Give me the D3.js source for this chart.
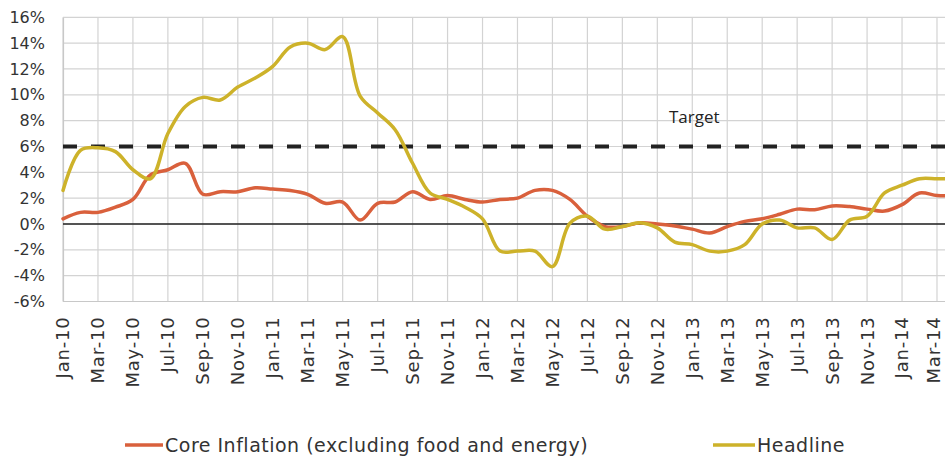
<!DOCTYPE html>
<html>
<head>
<meta charset="utf-8">
<script src="https://cdn.jsdelivr.net/npm/d3@7"></script>
<style>
  html, body { margin: 0; padding: 0; background: #fff; }
  svg { display: block; }
</style>
</head>
<body>
<svg id="chart" width="945" height="457"></svg>
<script>
// Months Jan-10 .. Apr-14 (index 0..51)
const monthNames = ["Jan","Feb","Mar","Apr","May","Jun","Jul","Aug","Sep","Oct","Nov","Dec"];
const months = d3.range(0, 52).map(i => monthNames[i % 12] + "-" + String(10 + Math.floor(i / 12)));

const coreInflation = [
  0.4, 0.9, 0.9, 1.3, 1.9, 3.8, 4.2, 4.7, 2.3, 2.5, 2.5, 2.8, 2.7, 2.6, 2.3,
  1.6, 1.7, 0.3, 1.6, 1.7, 2.5, 1.9, 2.2, 1.9, 1.7, 1.9, 2.0, 2.6, 2.6, 1.9,
  0.6, -0.2, -0.2, 0.1, 0.0, -0.15, -0.4, -0.7, -0.2, 0.2, 0.4, 0.75, 1.15, 1.1,
  1.4, 1.35, 1.15, 1.0, 1.5, 2.4, 2.2, 2.2
];
const headline = [
  2.6, 5.7, 5.9, 5.6, 4.2, 3.5, 7.0, 9.1, 9.8, 9.6, 10.6, 11.3, 12.2, 13.7, 14.0,
  13.5, 14.5, 9.9, 8.6, 7.3, 4.7, 2.4, 1.9, 1.3, 0.4, -2.1, -2.1, -2.1, -3.3, 0.05,
  0.6, -0.4, -0.2, 0.1, -0.3, -1.4, -1.6, -2.1, -2.1, -1.6, 0.0, 0.3, -0.3, -0.3,
  -1.2, 0.3, 0.6, 2.4, 3.0, 3.5, 3.5, 3.5
];
const targetValue = 6;
const yTicks = [-6, -4, -2, 0, 2, 4, 6, 8, 10, 12, 14, 16];
const xTickIdx = d3.range(0, 51, 2);
const seriesNames = ["Core Inflation (excluding food and energy)", "Headline"];
const seriesColors = ["#d9603c", "#cdb22a"];

const svg = d3.select("#chart");
const W = 945;

const x = d3.scaleLinear().domain([0, 51]).range([63, 63 + 17.48 * 51]);
const y = d3.scaleLinear().domain([-6, 16]).range([301.5, 17.3]);

// gridlines
const grid = svg.append("g");
grid.selectAll("line.h").data(yTicks).join("line")
  .attr("x1", x(0)).attr("x2", W)
  .attr("y1", d => y(d)).attr("y2", d => y(d))
  .attr("stroke", "#d3d3d3").attr("stroke-width", 1.2);
grid.selectAll("line.v").data(xTickIdx).join("line")
  .attr("x1", d => x(d)).attr("x2", d => x(d))
  .attr("y1", y(16)).attr("y2", y(-6))
  .attr("stroke", "#d3d3d3").attr("stroke-width", 1.2);

// Y axis
const yAxis = d3.axisLeft(y).tickValues(yTicks).tickFormat(d => d + "%").tickSize(0).tickPadding(18);
const gy = svg.append("g").attr("transform", `translate(${x(0)},0)`).call(yAxis);
gy.select(".domain").attr("stroke", "#c8c8c8").attr("stroke-width", 1.2);
gy.selectAll("text").attr("font-family", "DejaVu Sans").attr("font-size", 16).attr("fill", "#333");

// X axis
const xAxis = d3.axisBottom(x).tickValues(xTickIdx).tickFormat(i => months[i]).tickSize(0);
const gx = svg.append("g").attr("transform", `translate(0,${y(-6)})`).call(xAxis);
gx.select(".domain").attr("stroke", "#c8c8c8").attr("stroke-width", 1.2).attr("d", `M${x(0)},0H${W}`);
gx.selectAll("text")
  .attr("font-family", "DejaVu Sans").attr("font-size", 18).attr("fill", "#333")
  .attr("letter-spacing", 0.8)
  .attr("text-anchor", "end")
  .attr("transform", "rotate(-90)")
  .attr("x", -15).attr("y", d => (d === 50 ? -3.5 : 0)).attr("dy", "0.33em");

// zero line
svg.append("line").attr("x1", x(0)).attr("x2", W)
  .attr("y1", y(0)).attr("y2", y(0)).attr("stroke", "#222").attr("stroke-width", 1.5);

// target line
svg.append("line").attr("x1", x(0)).attr("x2", W)
  .attr("y1", y(targetValue)).attr("y2", y(targetValue))
  .attr("stroke", "#222").attr("stroke-width", 4).attr("stroke-dasharray", "14,14");
svg.append("text").attr("x", 669).attr("y", 123).text("Target")
  .attr("font-family", "Open Sans").attr("font-size", 17).attr("fill", "#222");

// series
const line = d3.line().x((d, i) => x(i)).y(d => y(d)).curve(d3.curveCatmullRom.alpha(0.5));
[coreInflation, headline].forEach((s, k) => {
  svg.append("path").datum(s).attr("d", line)
    .attr("fill", "none").attr("stroke", seriesColors[k]).attr("stroke-width", 3.5)
    .attr("stroke-linejoin", "round").attr("stroke-linecap", "round");
});

// legend
const legendPos = [{x1: 125, x2: 163}, {x1: 713, x2: 755}];
seriesNames.forEach((n, k) => {
  svg.append("line").attr("x1", legendPos[k].x1).attr("x2", legendPos[k].x2)
    .attr("y1", 445).attr("y2", 445).attr("stroke", seriesColors[k]).attr("stroke-width", 3.5);
  svg.append("text").attr("x", legendPos[k].x2 + 2).attr("y", 445).attr("dy", "0.35em")
    .text(n).attr("font-family", "DejaVu Sans").attr("font-size", 19)
    .attr("letter-spacing", 0.5).attr("fill", "#333");
});
</script>
</body>
</html>
